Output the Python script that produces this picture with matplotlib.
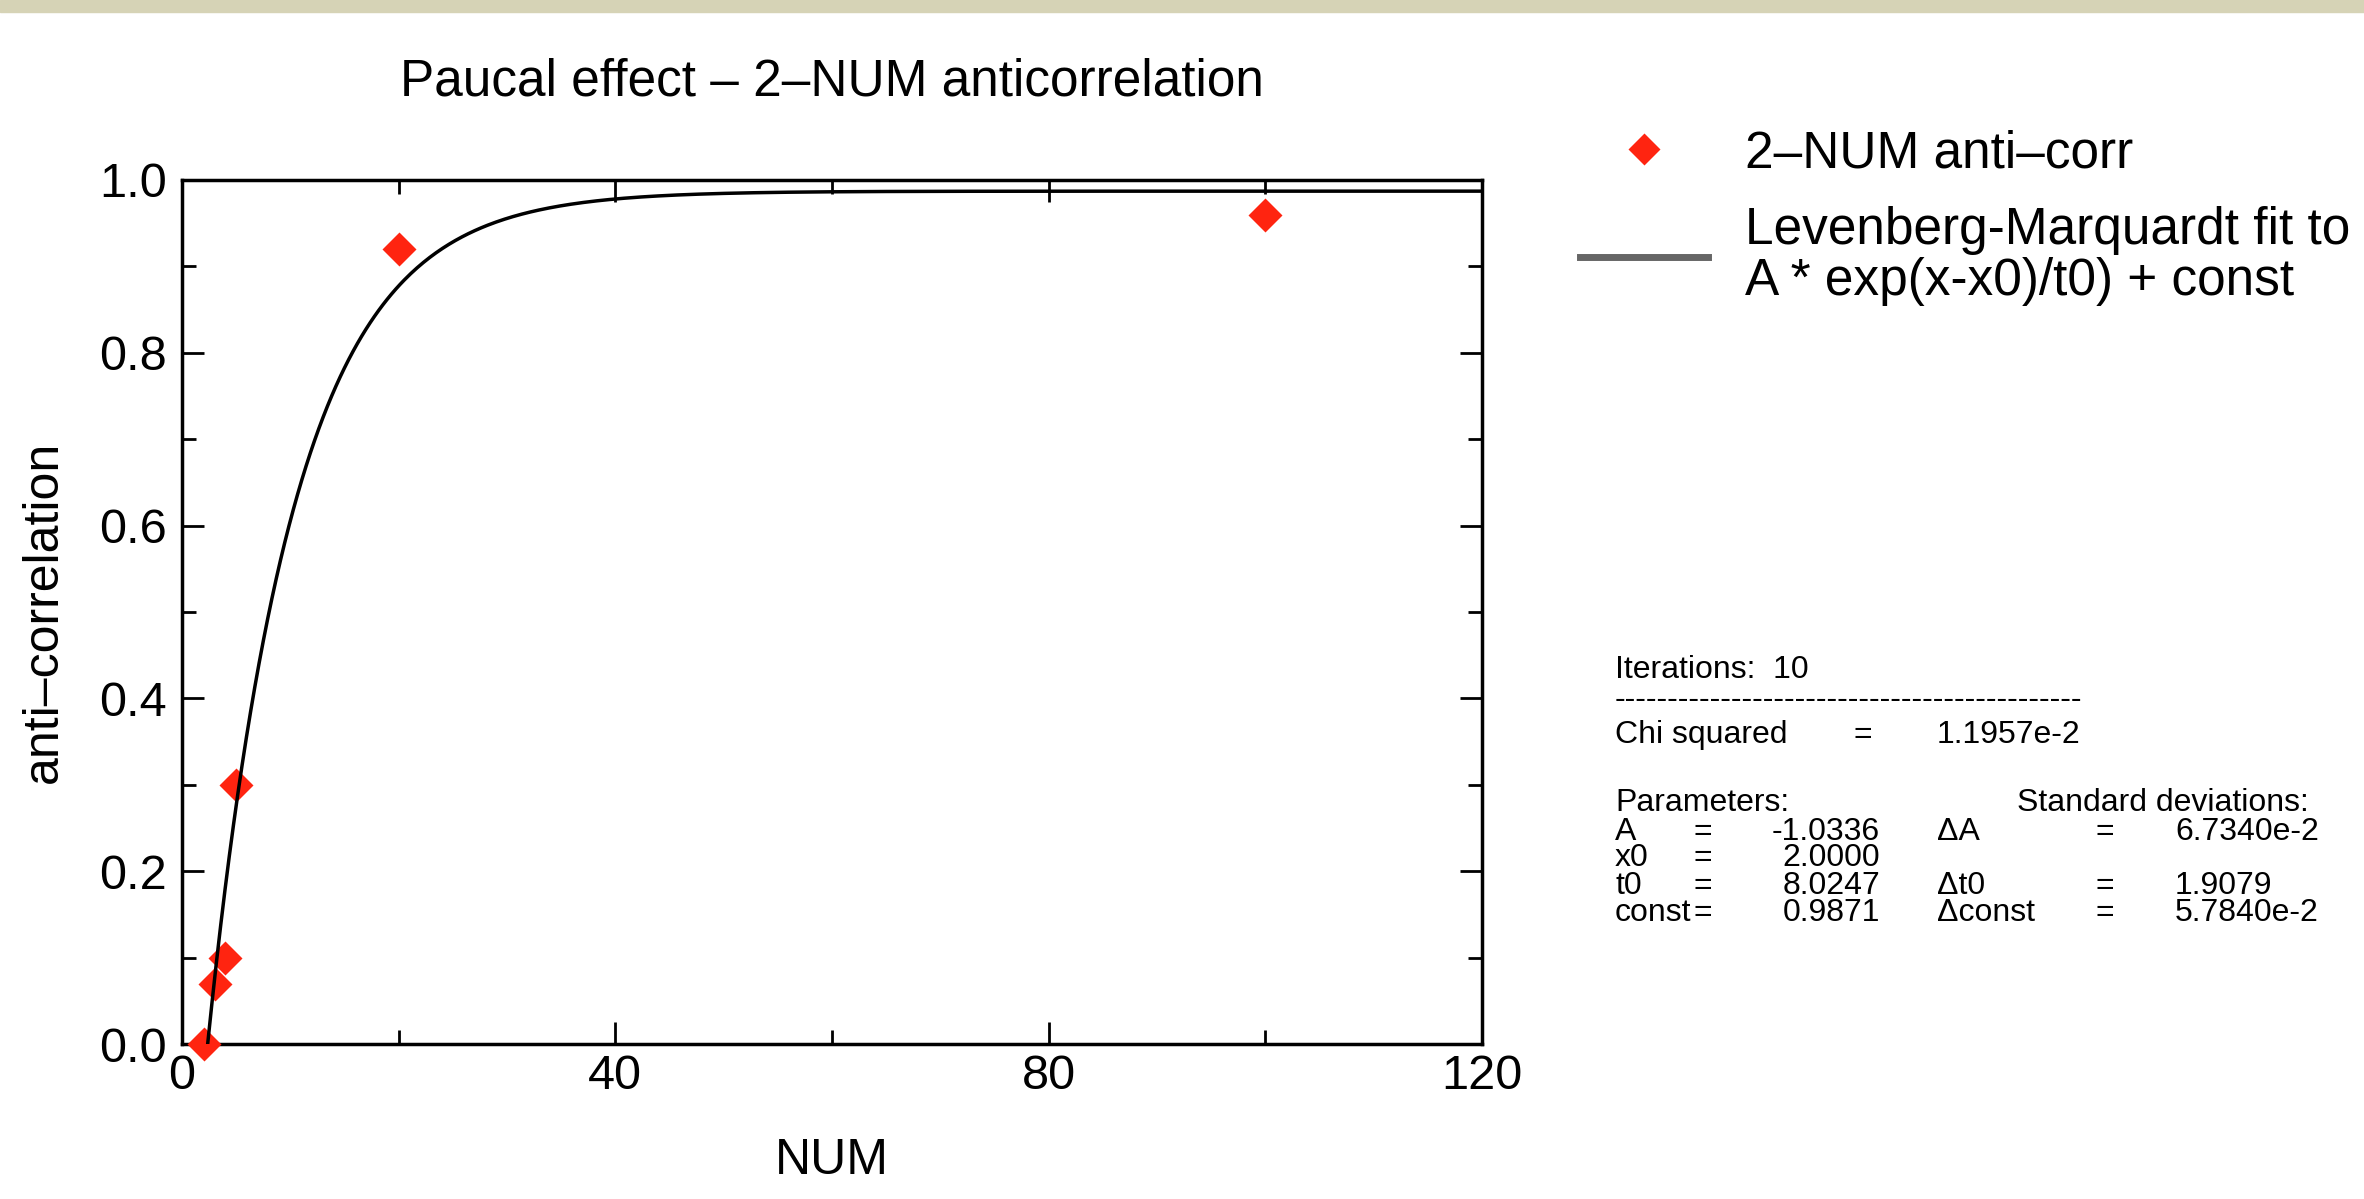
import matplotlib
matplotlib.use("Agg")
import matplotlib.pyplot as plt
import numpy as np
from matplotlib.lines import Line2D
from matplotlib.patches import Rectangle
from matplotlib.ticker import MultipleLocator

plt.rcParams['font.family'] = ['Liberation Sans', 'DejaVu Sans']

# measured points (NUM, anti-correlation)
num = np.array([2, 3, 4, 5, 20, 100])
anticorr = np.array([0.0, 0.07, 0.10, 0.30, 0.92, 0.96])

# fit result shown in the side panel
param_names = ["A", "x0", "t0", "const"]
param_values = ["-1.0336", "2.0000", "8.0247", "0.9871"]
std_names = ["\u0394A", "", "\u0394t0", "\u0394const"]
std_values = ["6.7340e-2", "", "1.9079", "5.7840e-2"]
iterations = 10
chi_squared = "1.1957e-2"
A, x0, t0, const = [float(v) for v in param_values]

W, H = 2364, 1199
fig = plt.figure(figsize=(W / 100, H / 100), dpi=100)
fig.patches.append(Rectangle((0, 1 - 12 / H), 1, 12 / H, transform=fig.transFigure,
                             color='#d6d3b6', zorder=0))

ax = fig.add_axes([182 / W, 1 - 1044 / H, 1300 / W, 864 / H])

red = '#ff2410'
ax.plot(num, anticorr, 'D', color=red, ms=17, mec='none', clip_on=False, zorder=3)
xs = np.linspace(x0, 120, 600)
ax.plot(xs, A * np.exp(-(xs - x0) / t0) + const, color='black', lw=2.5, zorder=4)

ax.set_xlim(0, 120)
ax.set_ylim(0, 1.0)
ax.xaxis.set_major_locator(MultipleLocator(40))
ax.xaxis.set_minor_locator(MultipleLocator(20))
ax.yaxis.set_major_locator(MultipleLocator(0.2))
ax.yaxis.set_minor_locator(MultipleLocator(0.1))
ax.tick_params(which='both', direction='in', top=True, right=True, width=2)
ax.tick_params(which='major', length=16, labelsize=35)
ax.tick_params(axis='x', which='major', pad=7)
ax.tick_params(axis='y', which='major', pad=11)
ax.tick_params(which='minor', length=10)
for s in ax.spines.values():
    s.set_linewidth(2.5)

ax.set_title("Paucal effect \u2013 2\u2013NUM anticorrelation", fontsize=37, pad=61)
ax.set_xlabel("NUM", fontsize=36, labelpad=28)
ax.set_ylabel("anti\u2013correlation", fontsize=36, labelpad=23)

handles = [Line2D([], [], marker='D', ls='none', color=red, ms=16, mec='none'),
           Line2D([], [], color='#666666', lw=5)]
labels = ["2\u2013NUM anti\u2013corr", "Levenberg-Marquardt fit to\nA * exp(x-x0)/t0) + const"]
leg = fig.legend(handles, labels, loc='upper left', bbox_to_anchor=(1580 / W, 1 - 129 / H),
                 frameon=False, fontsize=37, borderpad=0, borderaxespad=0,
                 handlelength=2.49, handletextpad=0.72, labelspacing=0.55)
leg.get_texts()[1].set_linespacing(1.05)


def put(x, y, s, ha='left'):
    fig.text(x / W, 1 - y / H, s, ha=ha, va='center', fontsize=23)


put(1615, 670, "Iterations:  %d" % iterations)
put(1615, 700, "-" * 44)
put(1615, 735, "Chi squared")
put(1863, 735, "=", ha='center')
put(1937, 735, chi_squared)
put(1615, 803, "Parameters:")
put(2017, 803, "Standard deviations:")
rows_y = [832, 858, 886, 913]
for i, y in enumerate(rows_y):
    put(1615, y, param_names[i])
    put(1703, y, "=", ha='center')
    put(1880, y, param_values[i], ha='right')
    if std_names[i]:
        put(1937, y, std_names[i])
        put(2105, y, "=", ha='center')
        put(2175, y, std_values[i])

fig.savefig("out.png", dpi=100)
